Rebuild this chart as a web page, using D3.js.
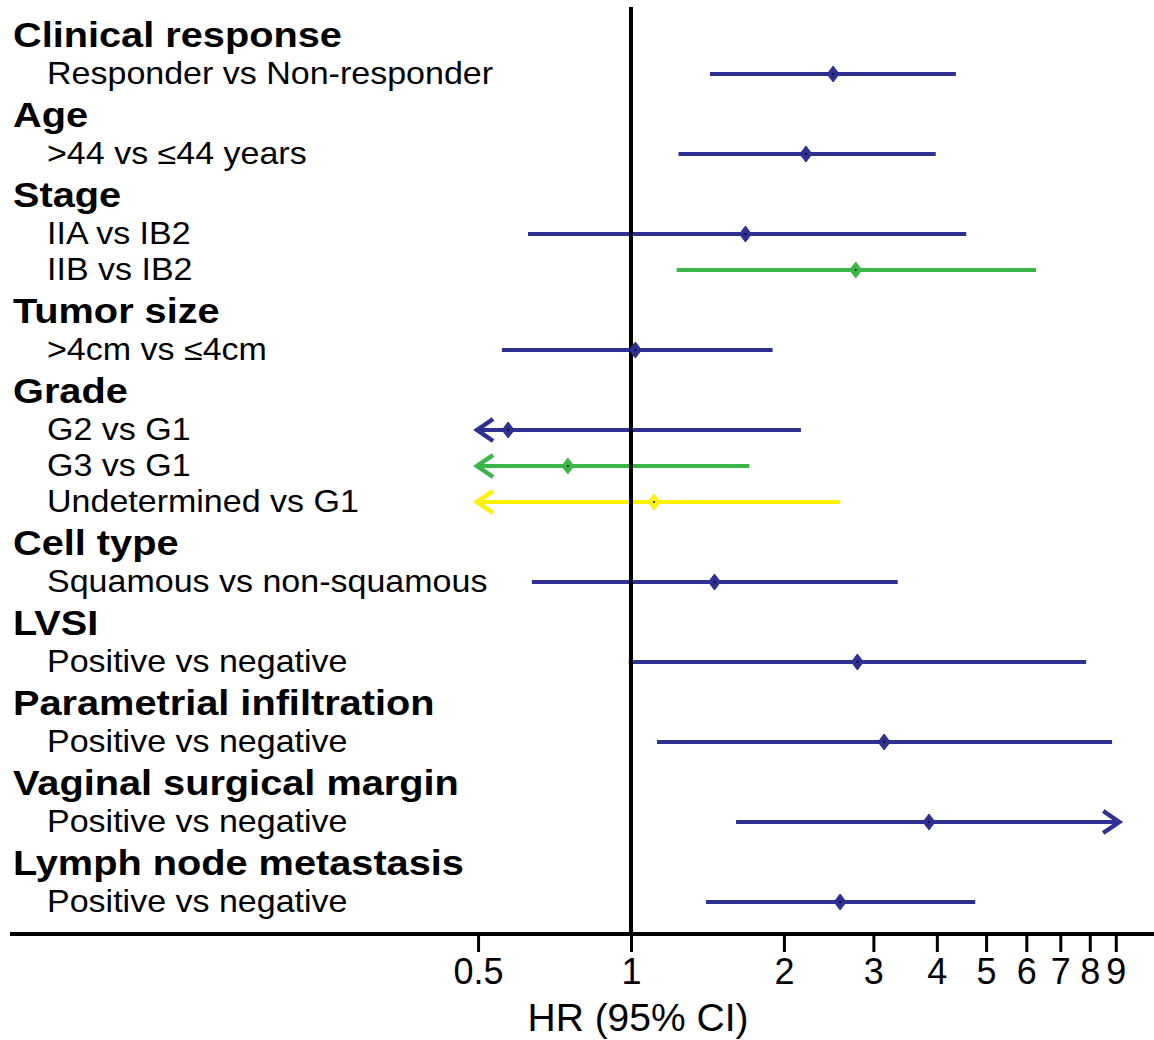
<!DOCTYPE html>
<html>
<head>
<meta charset="utf-8">
<script src="https://cdn.jsdelivr.net/npm/d3@7"></script>
<style>
  body { margin: 0; background: #fff; }
  text { font-family: "Liberation Sans", Arial, sans-serif; fill: #000; }
</style>
</head>
<body>
<svg width="1154" height="1040"></svg>
<script>
// one entry per text line, top to bottom
const lineLabels = ["Clinical response", "Responder vs Non-responder", "Age", ">44 vs \u226444 years",
  "Stage", "IIA vs IB2", "IIB vs IB2", "Tumor size", ">4cm vs \u22644cm", "Grade", "G2 vs G1",
  "G3 vs G1", "Undetermined vs G1", "Cell type", "Squamous vs non-squamous", "LVSI",
  "Positive vs negative", "Parametrial infiltration", "Positive vs negative",
  "Vaginal surgical margin", "Positive vs negative", "Lymph node metastasis", "Positive vs negative"];
const lineIsHeader = [1, 0, 1, 0, 1, 0, 0, 1, 0, 1, 0, 0, 0, 1, 0, 1, 0, 1, 0, 1, 0, 1, 0];
// hazard ratios and 95% CI (null = runs off the axis, drawn as arrow)
const hr     = [null, 2.50, null, 2.21, null, 1.68, 2.77, null, 1.02, null, 0.573, 0.751, 1.11, null, 1.46, null, 2.79, null, 3.15, null, 3.86, null, 2.58];
const ciLow  = [null, 1.43, null, 1.24, null, 0.627, 1.23, null, 0.557, null, null, null, null, null, 0.638, null, 0.99, null, 1.125, null, 1.61, null, 1.405];
const ciHigh = [null, 4.36, null, 3.98, null, 4.57, 6.27, null, 1.90, null, 2.16, 1.71, 2.58, null, 3.35, null, 7.87, null, 8.85, null, null, null, 4.76];
// comparison number within each variable (1st, 2nd, 3rd level)
const level  = [0, 1, 0, 1, 0, 1, 2, 0, 1, 0, 1, 2, 3, 0, 1, 0, 1, 0, 1, 0, 1, 0, 1];
const tickValues = [0.5, 1, 2, 3, 4, 5, 6, 7, 8, 9];
const axisMin = 0.5, axisMax = 9.1;

var color = d3.scaleOrdinal().domain([1, 2, 3]).range(["#2e3192", "#3ab54a", "#fff200"]);
var x = d3.scaleLog().domain([1, 10]).range([631, 1139]);

// vertical positions: tighter spacing between consecutive sub rows
var ys = [];
lineLabels.forEach(function(d, i) {
  if (i == 0) { ys.push(34); return; }
  var gap = (!lineIsHeader[i] && !lineIsHeader[i - 1]) ? 36 : 40;
  ys.push(ys[i - 1] + gap);
});

var svg = d3.select("svg");
var axisY = 934;

// labels
svg.append("g").selectAll("text").data(lineLabels).enter().append("text")
  .attr("transform", function(d, i) {
    return lineIsHeader[i]
      ? "translate(13," + (ys[i] + 12.5) + ") scale(1.135,1)"
      : "translate(47," + (ys[i] + 9.5) + ") scale(1.115,1)";
  })
  .attr("font-size", function(d, i) { return lineIsHeader[i] ? 35 : 30.5; })
  .attr("font-weight", function(d, i) { return lineIsHeader[i] ? "bold" : "normal"; })
  .text(function(d) { return d; });

var idx = d3.range(lineLabels.length).filter(function(i) { return hr[i] != null; });

// CI lines
var bars = svg.append("g");
bars.selectAll("line").data(idx).enter().append("line")
  .attr("x1", function(i) { return x(ciLow[i] == null ? axisMin : ciLow[i]); })
  .attr("x2", function(i) { return x(ciHigh[i] == null ? axisMax : ciHigh[i]); })
  .attr("y1", function(i) { return ys[i]; })
  .attr("y2", function(i) { return ys[i]; })
  .attr("stroke", function(i) { return color(level[i]); })
  .attr("stroke-width", 4);

// arrow heads for CIs past the axis
bars.selectAll("path.left").data(idx.filter(function(i) { return ciLow[i] == null; })).enter().append("path")
  .attr("d", function(i) {
    var t = x(axisMin) - 1;
    return "M" + (t + 16) + "," + (ys[i] - 11) + "L" + t + "," + ys[i] + "L" + (t + 16) + "," + (ys[i] + 11);
  })
  .attr("fill", "none").attr("stroke", function(i) { return color(level[i]); })
  .attr("stroke-width", 4.5);
bars.selectAll("path.right").data(idx.filter(function(i) { return ciHigh[i] == null; })).enter().append("path")
  .attr("d", function(i) {
    var t = x(axisMax) + 1;
    return "M" + (t - 16) + "," + (ys[i] - 11) + "L" + t + "," + ys[i] + "L" + (t - 16) + "," + (ys[i] + 11);
  })
  .attr("fill", "none").attr("stroke", function(i) { return color(level[i]); })
  .attr("stroke-width", 4.5);

// reference line at HR = 1
svg.append("line")
  .attr("x1", x(1)).attr("x2", x(1))
  .attr("y1", 7).attr("y2", axisY)
  .attr("stroke", "#000").attr("stroke-width", 4);

// point estimates
var pts = svg.append("g").selectAll("g").data(idx).enter().append("g")
  .attr("transform", function(i) { return "translate(" + x(hr[i]) + "," + ys[i] + ")"; });
pts.append("path")
  .attr("d", "M0,-8L6,0L0,8L-6,0Z")
  .attr("fill", function(i) { return color(level[i]); })
  .attr("stroke", function(i) { return color(level[i]); })
  .attr("stroke-width", 1);
pts.append("circle").attr("r", 1).attr("fill", "#000");

// x axis
var xaxis = d3.axisBottom(x).tickValues(tickValues).tickSize(18).tickPadding(6)
  .tickFormat(function(d) { return d; });
var gx = svg.append("g")
  .attr("transform", "translate(0," + axisY + ")")
  .call(xaxis);
gx.select(".domain").remove();
gx.selectAll(".tick line").attr("stroke", "#000").attr("stroke-width", 3);
gx.selectAll(".tick text")
  .attr("font-family", "Liberation Sans, Arial, sans-serif")
  .attr("font-size", 36).attr("fill", "#000");

svg.append("line")
  .attr("x1", 10).attr("x2", 1154)
  .attr("y1", axisY).attr("y2", axisY)
  .attr("stroke", "#000").attr("stroke-width", 4);

svg.append("text")
  .attr("x", 638).attr("y", 1031)
  .attr("text-anchor", "middle")
  .attr("font-size", 39)
  .text("HR (95% CI)");
</script>
</body>
</html>
